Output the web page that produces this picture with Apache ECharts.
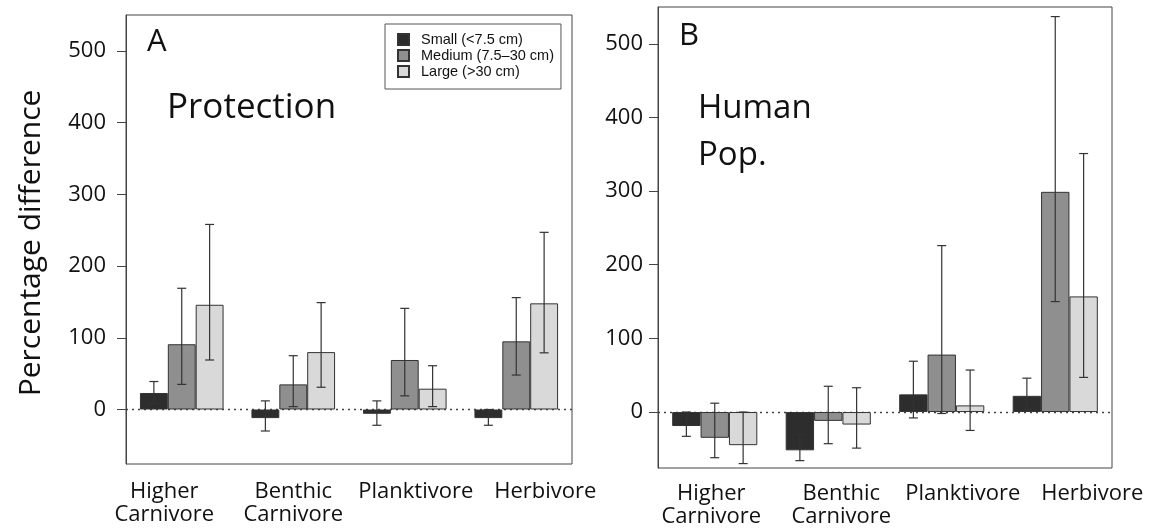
<!DOCTYPE html>
<html>
<head>
<meta charset="utf-8">
<script src="https://cdn.jsdelivr.net/npm/echarts@6/dist/echarts.min.js"></script>
<style>
html,body{margin:0;padding:0;background:#fff;}
#chart{width:1149px;height:532px;}
</style>
</head>
<body>
<div id="chart"></div>
<script>
// ---- data ----
const categories = ['Higher\nCarnivore', 'Benthic\nCarnivore', 'Planktivore', 'Herbivore'];
const sizeClasses = ['Small (<7.5 cm)', 'Medium (7.5\u201330 cm)', 'Large (>30 cm)'];
const yTicks = [0, 100, 200, 300, 400, 500];

// Panel A: Protection
const protSmall      = [23, -12, -6, -12];
const protSmallLow   = [8, -30, -22, -22];
const protSmallHigh  = [39, 12, 12, 0];
const protMedium     = [91, 35, 69, 95];
const protMediumLow  = [35, 4, 19, 48];
const protMediumHigh = [169, 75, 141, 156];
const protLarge      = [146, 80, 29, 148];
const protLargeLow   = [69, 31, 4, 79];
const protLargeHigh  = [258, 149, 61, 247];

// Panel B: Human population
const humSmall      = [-19, -52, 24, 22];
const humSmallLow   = [-33, -66, -8, 3];
const humSmallHigh  = [0, -30, 69, 46];
const humMedium     = [-35, -12, 78, 299];
const humMediumLow  = [-62, -43, -2, 150];
const humMediumHigh = [12, 35, 226, 537];
const humLarge      = [-45, -17, 9, 157];
const humLargeLow   = [-70, -49, -25, 47];
const humLargeHigh  = [0, 33, 57, 351];

// ---- styling ----
const FONT = '"Open Sans", Lato, sans-serif';
const colors = ['#2d2d2d', '#8f8f8f', '#d9d9d9'];
const frameColor = '#444';

function errData(lows, highs) {
  const out = [];
  for (let k = 0; k < 3; k++) {
    for (let i = 0; i < categories.length; i++) {
      out.push([i, k, lows[k][i], highs[k][i]]);
    }
  }
  return out;
}

function errRender(params, api) {
  const ci = api.value(0), k = api.value(1);
  const lo = api.value(2), hi = api.value(3);
  const c = api.coord([ci, 0]);
  const band = api.size([1, 0])[0];
  const x = c[0] + (k - 1) * band * 0.25;
  const yl = api.coord([ci, lo])[1];
  const yh = api.coord([ci, hi])[1];
  const cap = 4.5;
  const st = { stroke: '#333', lineWidth: 1.2 };
  return {
    type: 'group',
    children: [
      { type: 'line', shape: { x1: x, y1: yl, x2: x, y2: yh }, style: st },
      { type: 'line', shape: { x1: x - cap, y1: yl, x2: x + cap, y2: yl }, style: st },
      { type: 'line', shape: { x1: x - cap, y1: yh, x2: x + cap, y2: yh }, style: st }
    ]
  };
}

function makeRich(offsets) {
  const rich = {};
  offsets.forEach((d, i) => {
    rich['r' + i] = {
      fontFamily: FONT, fontSize: 22, color: '#111', lineHeight: 23,
      padding: d >= 0 ? [0, 0, 0, 2 * d] : [0, -2 * d, 0, 0]
    };
  });
  return rich;
}

function xAxisFor(gi, offsets, margin) {
  return {
    type: 'category', gridIndex: gi, data: categories,
    axisLine: { show: false }, axisTick: { show: false },
    axisLabel: {
      interval: 0, margin: margin,
      formatter: (v, idx) => v.split('\n').map(s => '{r' + idx + '|' + s + '}').join('\n'),
      rich: makeRich(offsets)
    }
  };
}

function yAxisFor(gi, margin) {
  return {
    type: 'value', gridIndex: gi, min: -76, max: 550,
    splitLine: { show: false },
    axisLine: { show: true, lineStyle: { color: frameColor, width: 1 } },
    axisTick: { show: true, length: 9, customValues: yTicks, lineStyle: { color: frameColor, width: 1 } },
    axisLabel: { customValues: yTicks, margin: margin, fontFamily: FONT, fontSize: 22, color: '#111' }
  };
}

function panelSeries(ai, vals, lows, highs) {
  const s = [];
  for (let k = 0; k < 3; k++) {
    const ser = {
      type: 'bar', name: sizeClasses[k], xAxisIndex: ai, yAxisIndex: ai,
      data: vals[k], barWidth: '25%', barGap: '0%', z: 2,
      itemStyle: { color: colors[k], borderColor: '#333', borderWidth: 1 },
      emphasis: { disabled: true }
    };
    if (k === 0) {
      ser.markLine = {
        z: 1, silent: true, symbol: ['none', 'none'],
        label: { show: false },
        lineStyle: { type: [2, 4], color: '#444', width: 1.3 },
        data: [{ yAxis: 0 }]
      };
    }
    s.push(ser);
  }
  s.push({
    type: 'custom', name: 'err' + ai, xAxisIndex: ai, yAxisIndex: ai, z: 3,
    renderItem: errRender, data: errData(lows, highs), encode: { x: 0, y: [2, 3] },
    silent: true, tooltip: { show: false }
  });
  return s;
}

const chart = echarts.init(document.getElementById('chart'), null, { renderer: 'canvas' });

const option = {
  backgroundColor: '#fff',
  animation: false,
  grid: [
    { left: 126, top: 15, width: 446, height: 449, show: true, borderColor: frameColor, borderWidth: 1, backgroundColor: 'transparent' },
    { left: 658, top: 7, width: 454, height: 461, show: true, borderColor: frameColor, borderWidth: 1, backgroundColor: 'transparent' }
  ],
  xAxis: [
    xAxisFor(0, [-17.5, 0, 11, 29], 16),
    xAxisFor(1, [-3.5, 13, 21, 37], 14)
  ],
  yAxis: [yAxisFor(0, 20), yAxisFor(1, 15)],
  legend: {
    data: sizeClasses, orient: 'vertical', left: 385, top: 24,
    padding: [8, 7, 10, 12], itemWidth: 11, itemHeight: 11, itemGap: 1,
    borderColor: '#555', borderWidth: 1, icon: 'rect',
    textStyle: { fontFamily: '"Liberation Sans", Arial, sans-serif', fontSize: 14.5, color: '#111', padding: [0, 0, 0, 7] }
  },
  graphic: [
    { type: 'text', x: 147, y: 42, style: { text: 'A', fontFamily: FONT, fontSize: 31, fill: '#111', verticalAlign: 'middle' } },
    { type: 'text', x: 167, y: 108, style: { text: 'Protection', fontFamily: FONT, fontSize: 35, fill: '#111', verticalAlign: 'middle' } },
    { type: 'text', x: 679, y: 36, style: { text: 'B', fontFamily: FONT, fontSize: 31, fill: '#111', verticalAlign: 'middle' } },
    { type: 'text', x: 698, y: 109, style: { text: 'Human', fontFamily: FONT, fontSize: 33, fill: '#111', verticalAlign: 'middle' } },
    { type: 'text', x: 698, y: 156, style: { text: 'Pop.', fontFamily: FONT, fontSize: 33, fill: '#111', verticalAlign: 'middle' } },
    { type: 'text', x: 31, y: 243, rotation: Math.PI / 2, style: { text: 'Percentage difference', fontFamily: FONT, fontSize: 30, fill: '#111', align: 'center', verticalAlign: 'middle' } }
  ],
  series: [].concat(
    panelSeries(0, [protSmall, protMedium, protLarge], [protSmallLow, protMediumLow, protLargeLow], [protSmallHigh, protMediumHigh, protLargeHigh]),
    panelSeries(1, [humSmall, humMedium, humLarge], [humSmallLow, humMediumLow, humLargeLow], [humSmallHigh, humMediumHigh, humLargeHigh])
  )
};
chart.setOption(option);
</script>
</body>
</html>
